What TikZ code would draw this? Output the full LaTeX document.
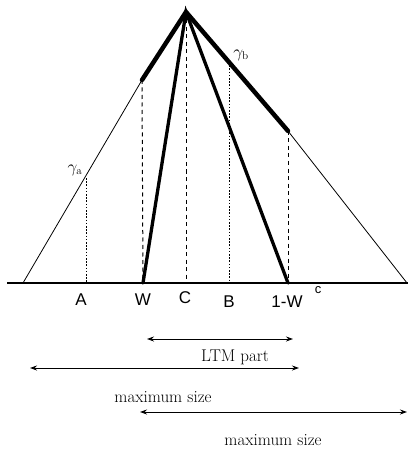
\documentclass[tikz,border=0pt]{standalone}
\usepackage{fontspec}
\newfontfamily\labelfont{Liberation Sans}
\usetikzlibrary{arrows.meta,calc}

\tikzset{
  thinside/.style={line width=0.8pt},
  thickside/.style={line width=4.5pt,line cap=round},
  dashline/.style={line width=1pt,dash pattern=on 4pt off 3.5pt},
  dotline/.style={line width=1pt,dash pattern=on 1.6pt off 1.6pt},
  ptlabel/.style={font=\labelfont\fontsize{17}{17}\selectfont,inner sep=0pt},
  gamlabel/.style={font=\fontsize{16}{16}\selectfont,inner sep=0pt},
  sizetext/.style={font=\fontsize{17}{17}\selectfont,inner sep=0pt},
  sizearrow/.style={<->,line width=0.9pt},
}

\begin{document}
\begin{tikzpicture}[x=1pt,y=-1pt,>={Stealth[length=7pt,width=5pt]}]
\useasboundingbox (0,0) rectangle (408,449);
% apex and base
\coordinate (top) at (186,12);
\coordinate (baseL) at (23,283);
\coordinate (baseR) at (407,283);
\coordinate (axisL) at (7,283);
\coordinate (axisR) at (408,283);
\coordinate (a) at (86,283);
\coordinate (w) at (143,283);
\coordinate (c) at (186,283);
\coordinate (b) at (229,283);
\coordinate (mw) at (288,283);
% points on the sides
\coordinate (atop) at (86,178);
\coordinate (wtop) at (142,80);
\coordinate (btop) at (229,62);
\coordinate (mwtop) at (288,131);

\draw[line width=1.5pt] (axisL) -- (axisR);
\draw[thinside] (baseL) -- (wtop);
\draw[thinside] (mwtop) -- (baseR);
\draw[thickside] (wtop) -- (top) -- (mwtop);
\draw[line width=3.3pt,line cap=round] (w) -- (top) -- (mw);

\draw[dotline] (atop) -- (a);
\draw[dashline] (wtop) -- (w);
\draw[dashline] (top) -- (c);
\draw[dotline] (btop) -- (b);
\draw[dashline] (mwtop) -- (mw);

\node[gamlabel] (ga) at (75,170) {$\gamma_{\mathrm{a}}$};
\node[gamlabel] (gb) at (241,55) {$\gamma_{\mathrm{b}}$};

\node[ptlabel] (la) at (81,300) {A};
\node[ptlabel] (lw) at (143,300) {W};
\node[ptlabel] (lc) at (185,298) {C};
\node[ptlabel] (lb) at (229,302) {B};
\node[ptlabel] (lmw) at (287,302) {1-W};
\node[ptlabel,font=\labelfont\fontsize{13}{13}\selectfont] (lsup) at (318,290) {c};

% size arrows
\coordinate (ltmL) at (147,339);
\coordinate (ltmR) at (293,339);
\draw[sizearrow] (ltmL) -- (ltmR);
\node[sizetext] (ltm) at (235,357) {LTM part};

\coordinate (maxaL) at (30,368);
\coordinate (maxaR) at (299,368);
\draw[sizearrow] (maxaL) -- (maxaR);
\node[sizetext] (maxa) at (163,397) {maximum size};

\coordinate (maxbL) at (140,412);
\coordinate (maxbR) at (407,412);
\draw[sizearrow] (maxbL) -- (maxbR);
\node[sizetext] (maxb) at (273,440) {maximum size};
\end{tikzpicture}
\end{document}
